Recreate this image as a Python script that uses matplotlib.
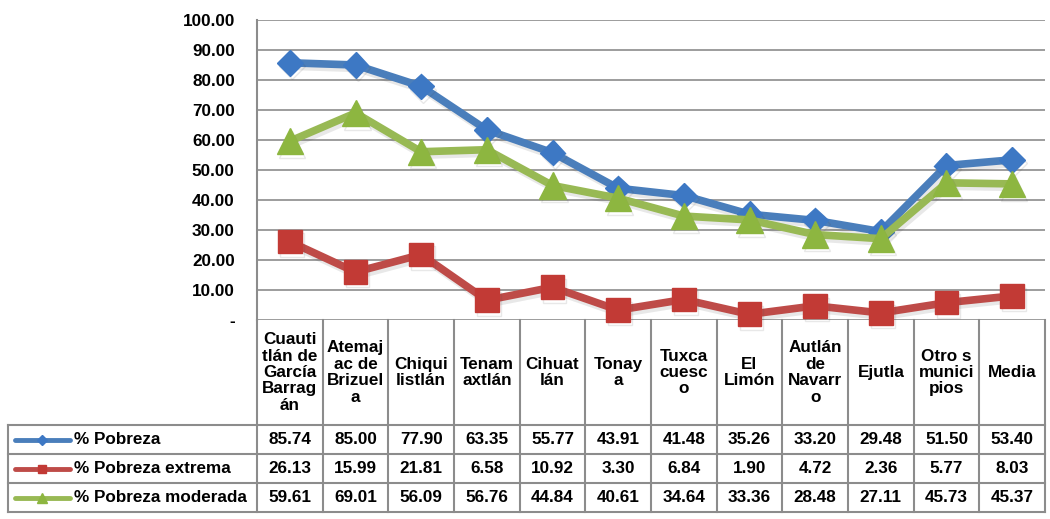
import matplotlib
matplotlib.use("Agg")
import matplotlib.pyplot as plt
import matplotlib.patheffects as pe

plt.rcParams["font.family"] = ["Liberation Sans", "DejaVu Sans"]
plt.rcParams["font.weight"] = "bold"

municipios = [
    "Cuauti\ntlán de\nGarcía\nBarrag\nán",
    "Atemaj\nac de\nBrizuel\na",
    "Chiqui\nlistlán",
    "Tenam\naxtlán",
    "Cihuat\nlán",
    "Tonay\na",
    "Tuxca\ncuesc\no",
    "El\nLimón",
    "Autlán\nde\nNavarr\no",
    "Ejutla",
    "Otro s\nmunici\npios",
    "Media",
]
pobreza = [85.74, 85.00, 77.90, 63.35, 55.77, 43.91, 41.48, 35.26, 33.20, 29.48, 51.50, 53.40]
extrema = [26.13, 15.99, 21.81, 6.58, 10.92, 3.30, 6.84, 1.90, 4.72, 2.36, 5.77, 8.03]
moderada = [59.61, 69.01, 56.09, 56.76, 44.84, 40.61, 34.64, 33.36, 28.48, 27.11, 45.73, 45.37]

series = [
    ("% Pobreza", pobreza, "#4A7EBB", "#3D78C4", "D", 13),
    ("% Pobreza extrema", extrema, "#BE4B48", "#C23A35", "s", 17),
    ("% Pobreza moderada", moderada, "#98B954", "#8DB640", "^", 19),
]

W, H = 1050, 519
fs = 12.3
fig = plt.figure(figsize=(W / 100, H / 100), dpi=100)

# plot area (pixel layout)
px_left, px_right, px_top, px_bottom = 257, 1045, 20, 320
ax = fig.add_axes([px_left / W, 1 - px_bottom / H, (px_right - px_left) / W, (px_bottom - px_top) / H])
n = len(municipios)
xs = list(range(n))
ax.set_xlim(-0.5, n - 0.5)
ax.set_ylim(0, 100)
ax.set_yticks(range(0, 101, 10))
ax.set_yticklabels(["-"] + [f"{v:.2f}" for v in range(10, 101, 10)], fontsize=fs, fontweight="bold")
ax.tick_params(axis="y", length=0, pad=16)
ax.set_xticks([])
ax.grid(axis="y", color="#8C8C8C", lw=1.2)
ax.set_axisbelow(True)
for s in ["top", "right", "bottom"]:
    ax.spines[s].set_visible(False)
ax.spines["left"].set_color("#8C8C8C")
ax.spines["left"].set_linewidth(1.5)

shadow = [pe.SimpleLineShadow(offset=(1.5, -2.5), alpha=0.12, shadow_color="#444444"), pe.Normal()]
for name, vals, lc, mc, mk, ms in series:
    ax.plot(xs, vals, color=lc, lw=5.5, marker=mk, ms=ms, mfc=mc, mec=mc, mew=1,
            path_effects=shadow, clip_on=False, zorder=3)

# data table below the plot area
tax = fig.add_axes([px_left / W, 1 - 512 / H, (px_right - px_left) / W, (512 - px_bottom) / H])
tax.set_xlim(-0.5, n - 0.5)
tax.set_ylim(192, 0)
tax.axis("off")
col_w = (px_right - px_left) / n
x_far_left = -0.5 - (px_left - 8) / col_w
header_h = 105
row_h = 29
grid_kw = dict(color="#8C8C8C", lw=1.5, clip_on=False)

# header cells
for i in range(n + 1):
    tax.plot([i - 0.5, i - 0.5], [0, header_h + 3 * row_h], **grid_kw)
tax.plot([x_far_left, x_far_left], [header_h, header_h + 3 * row_h], **grid_kw)
for k in range(4):
    y = header_h + k * row_h
    tax.plot([x_far_left, n - 0.5], [y, y], **grid_kw)
for i, lab in enumerate(municipios):
    tax.text(i, header_h / 2, lab, ha="center", va="center", fontsize=fs,
             fontweight="bold", linespacing=1.12, clip_on=False)

# value rows with legend keys
for r, (name, vals, lc, mc, mk, ms) in enumerate(series):
    yc = header_h + (r + 0.5) * row_h
    tax.plot([x_far_left + 0.1, x_far_left + 0.95], [yc, yc], color=lc, lw=3.5,
             solid_capstyle="round", clip_on=False)
    tax.plot([x_far_left + 0.525], [yc], marker=mk, ms=ms * 0.38, color=mc, clip_on=False)
    tax.text(x_far_left + 1.0, yc, name, ha="left", va="center", fontsize=fs,
             fontweight="bold", clip_on=False)
    for i, v in enumerate(vals):
        tax.text(i, yc, f"{v:.2f}", ha="center", va="center", fontsize=fs,
                 fontweight="bold", clip_on=False)

fig.savefig("out.png", dpi=100)
